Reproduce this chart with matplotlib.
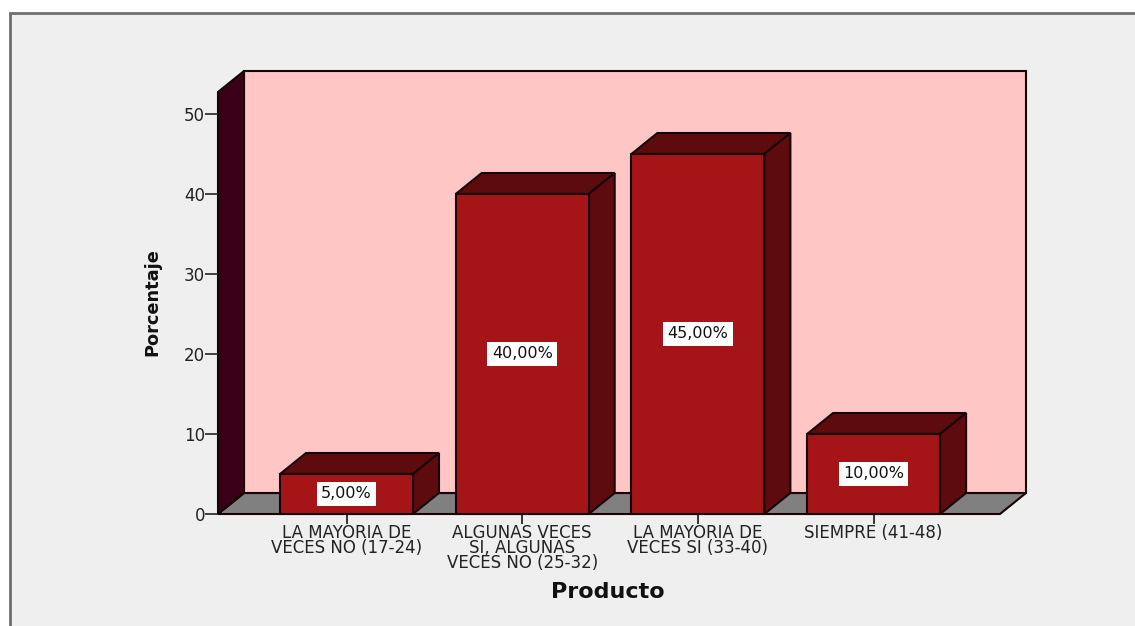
import matplotlib
matplotlib.use("Agg")
import matplotlib.pyplot as plt
from matplotlib.patches import Polygon, Rectangle

categories = ["LA MAYORIA DE\nVECES NO (17-24)",
              "ALGUNAS VECES\nSI, ALGUNAS\nVECES NO (25-32)",
              "LA MAYORIA DE\nVECES SI (33-40)",
              "SIEMPRE (41-48)"]
values = [5, 40, 45, 10]
value_labels = ["5,00%", "40,00%", "45,00%", "10,00%"]
yticks = [0, 10, 20, 30, 40, 50]

W, H = 1135, 626
BG = "#efefef"; WALL = "#ffc6c6"; SIDE = "#3a0018"; FLOOR = "#808080"
FRONT = "#a51518"; DARK = "#5e0b0e"; EDGE = "#160406"

fig = plt.figure(figsize=(W/100, H/100), dpi=100, facecolor="white")
fig.add_artist(Rectangle((10/W, -0.01), 1.02-10/W, (H-13)/H+0.01, transform=fig.transFigure,
                         facecolor=BG, edgecolor="#6e6e6e", linewidth=2.0, zorder=-5))

px = 175.7; py = 8.0
ax = fig.add_axes([218/W, 1-514/H, (1026-218)/W, (514-71)/H])
ax.set_xlim(-128.5/px, -128.5/px + 808/px)
ax.set_ylim(0, 443/py)
ax.patch.set_visible(False)
for s in ax.spines.values():
    s.set_visible(False)

dx = 26/px; dy = 21/py
x0 = -128.5/px
x1 = x0 + 782/px
top = 52.75
bw = 133/px
kw = dict(edgecolor=EDGE, linewidth=1.5, joinstyle="miter", clip_on=False)
ax.add_patch(Polygon([(x0, 0), (x1, 0), (x1+dx, dy), (x0+dx, dy)], facecolor=FLOOR, **kw))
ax.add_patch(Polygon([(x0+dx, dy), (x1+dx, dy), (x1+dx, top+dy), (x0+dx, top+dy)], facecolor=WALL, **kw))
ax.add_patch(Polygon([(x0, 0), (x0+dx, dy), (x0+dx, top+dy), (x0, top)], facecolor=SIDE, **kw))

for i, v in enumerate(values):
    l, r = i-bw/2, i+bw/2
    ax.add_patch(Polygon([(l, v), (r, v), (r+dx, v+dy), (l+dx, v+dy)], facecolor=DARK, zorder=3, **kw))
    ax.add_patch(Polygon([(r, 0), (r+dx, dy), (r+dx, v+dy), (r, v)], facecolor=DARK, zorder=3, **kw))
    ax.add_patch(Polygon([(l, 0), (r, 0), (r, v), (l, v)], facecolor=FRONT, zorder=3, **kw))
    ax.text(i, v/2, value_labels[i], ha="center", va="center", fontsize=11.5, color="#111111",
            family="DejaVu Sans", zorder=5,
            bbox=dict(boxstyle="square,pad=0.27", facecolor="white", edgecolor="none"))

ax.set_xticks(range(len(categories)))
ax.set_xticklabels(categories, fontsize=12, family="DejaVu Sans", color="#222222", linespacing=0.8)
ax.set_yticks(yticks)
ax.set_yticklabels([str(t) for t in yticks], fontsize=12, family="DejaVu Sans", color="#222222")
ax.tick_params(axis="x", length=7, width=1.4, color="#333333", pad=0)
ax.tick_params(axis="y", length=9.4, width=1.2, color="#222222", pad=0)

fig.text(152/W, 1-302/H, "Porcentaje", rotation=90, ha="center", va="center",
         fontsize=12.8, fontweight="bold", family="DejaVu Sans", color="#111111")
fig.text(608/W, 1-592/H, "Producto", ha="center", va="center",
         fontsize=16, fontweight="bold", family="DejaVu Sans", color="#111111")

fig.savefig("out.png", dpi=100, facecolor="white")
